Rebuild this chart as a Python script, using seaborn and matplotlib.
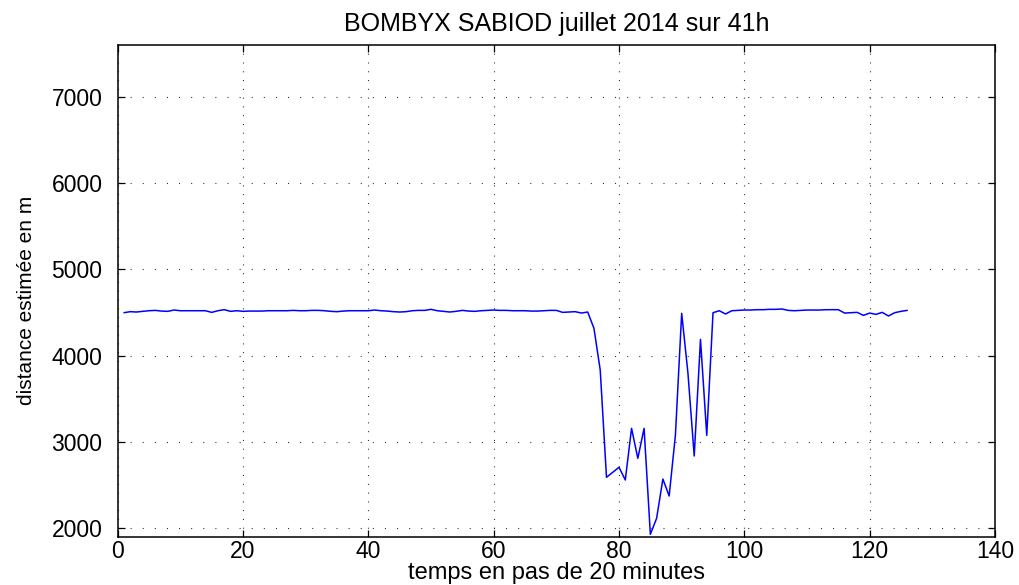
import numpy as np
import pandas as pd
import matplotlib
matplotlib.use("Agg")
import matplotlib.pyplot as plt
import seaborn as sns

# Estimated distance (m) for each 20-minute step
steps = list(range(1, 127))
distance = [
    4498, 4510, 4506, 4514, 4521, 4525, 4517, 4514, 4529, 4521,
    4521, 4521, 4521, 4521, 4502, 4521, 4533, 4514, 4521, 4514,
    4517, 4517, 4517, 4521, 4521, 4521, 4521, 4525, 4521, 4521,
    4525, 4525, 4521, 4514, 4510, 4517, 4521, 4521, 4521, 4521,
    4529, 4521, 4517, 4510, 4506, 4510, 4521, 4525, 4525, 4537,
    4521, 4514, 4506, 4514, 4525, 4517, 4514, 4521, 4525, 4529,
    4525, 4525, 4521, 4521, 4521, 4517, 4517, 4521, 4525, 4525,
    4502, 4506, 4510, 4494, 4506, 4317, 3834, 2591, 2649, 2707,
    2560, 3158, 2811, 3158, 1930, 2116, 2571, 2374, 3081, 4491,
    3796, 2838, 4189, 3077, 4498, 4521, 4483, 4521, 4525, 4529,
    4529, 4533, 4533, 4537, 4537, 4541, 4525, 4521, 4525, 4529,
    4529, 4529, 4533, 4533, 4533, 4494, 4498, 4502, 4467, 4494,
    4479, 4502, 4460, 4498, 4514, 4525,
]

x_ticks = [0, 20, 40, 60, 80, 100, 120, 140]
y_ticks = [2000, 3000, 4000, 5000, 6000, 7000]

title = "BOMBYX SABIOD juillet 2014 sur 41h"
x_label = "temps en pas de 20 minutes"
y_label = "distance estimée en m"

sns.set_theme(style="white")
plt.rcParams["font.family"] = ["Liberation Sans", "DejaVu Sans"]

df = pd.DataFrame({"t": steps, "d": distance})

fig = plt.figure(figsize=(10.2, 5.85), dpi=100)
ax = fig.add_axes([0.1154, 0.0826, 0.8601, 0.8405])

sns.lineplot(data=df, x="t", y="d", ax=ax, color="#0000ff", linewidth=1.1)

ax.set_xlim(0, 140)
ax.set_ylim(1903, 7600)
ax.set_xticks(x_ticks)
ax.set_yticks(y_ticks)
ax.set_xticklabels([str(v) for v in x_ticks])
ax.set_yticklabels([str(v) for v in y_ticks])

# dotted grid
ax.xaxis.grid(True, color="0.15", linewidth=0.8, linestyle=(0, (0.9, 7.0)))
ax.yaxis.grid(True, color="0.15", linewidth=0.8, linestyle=(0, (0.9, 10.0)))

for s in ax.spines.values():
    s.set_visible(True)
    s.set_color("black")
    s.set_linewidth(1.1)

ax.tick_params(axis="both", which="major", direction="in", length=5, width=0.9,
               color="black", top=True, right=True, bottom=True, left=True,
               labelsize=16.5, labelcolor="black")
ax.tick_params(axis="x", pad=2.5)
ax.tick_params(axis="y", pad=11)

ax.set_title(title, fontsize=18, pad=10, color="black")
ax.set_xlabel(x_label, fontsize=17, color="black")
ax.xaxis.label.set_va("baseline")
ax.xaxis.set_label_coords(0.5, -0.087)
ax.set_ylabel(y_label, fontsize=15, color="black")
ax.yaxis.set_label_coords(-0.093, 0.48)

fig.savefig("out.png", dpi=100, facecolor="white")
